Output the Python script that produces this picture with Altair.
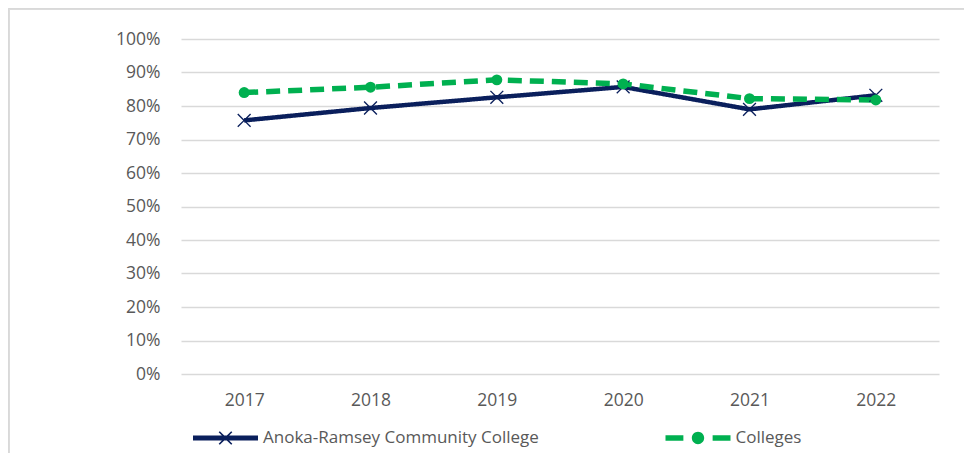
import altair as alt
import pandas as pd

years = ["2017", "2018", "2019", "2020", "2021", "2022"]
anoka = [0.757, 0.794, 0.826, 0.857, 0.790, 0.832]
colleges = [0.840, 0.856, 0.878, 0.866, 0.822, 0.818]
series_names = ["Anoka-Ramsey Community College", "Colleges"]

rows = []
for y, a, c in zip(years, anoka, colleges):
    rows.append({"year": y, "series": series_names[0], "value": a})
    rows.append({"year": y, "series": series_names[1], "value": c})
df = pd.DataFrame(rows)

NAVY = "#0a1f5c"
GREEN = "#00b050"
TEXT = "#595959"
GRID = "#d9d9d9"
FONT = "Open Sans"


def x_poly(e, a):
    p = [(0, -a), (e - a, -e), (e, -e + a), (a, 0), (e, e - a), (e - a, e), (0, a),
         (-e + a, e), (-e, e - a), (-a, 0), (-e, -e + a), (-e + a, -e)]
    return "M" + "L".join(f"{x:.3f},{y:.3f}" for x, y in p) + "Z"


def rect(x0, x1, h):
    return f"M{x0},{-h}L{x1},{-h}L{x1},{h}L{x0},{h}Z"


def circ(r):
    return f"M{-r},0A{r},{r} 0 1,1 {r},0A{r},{r} 0 1,1 {-r},0Z"


# marker shapes in the plot
X_PATH = x_poly(1, 0.14)
# legend keys: line with marker (unit box spans the full key width)
KEY_ANOKA = rect(-1, 1, 0.075) + x_poly(0.21, 0.035)
KEY_COLL = rect(-1, -0.45, 0.085) + rect(0.45, 1, 0.085) + circ(0.19)

base = alt.Chart(df).transform_calculate(series_p="datum.series", series_q="datum.series")

x_enc = alt.X("year:O", scale=alt.Scale(padding=0.5),
              axis=alt.Axis(title=None, labelAngle=0, grid=False, domain=False,
                            ticks=False, tickSize=0, labelPadding=17,
                            labelFontSize=17.5, labelColor=TEXT, labelFont=FONT))
y_enc = alt.Y("value:Q", scale=alt.Scale(domain=[0, 1], nice=False),
              axis=alt.Axis(title=None, format="%", values=[i / 10 for i in range(11)],
                            grid=True, gridColor=GRID, gridWidth=1.3, domain=False,
                            ticks=False, tickSize=0, labelPadding=21,
                            labelFontSize=17.5, labelColor=TEXT, labelFont=FONT))

lines = base.mark_line().encode(
    x=x_enc, y=y_enc,
    color=alt.Color("series:N", scale=alt.Scale(range=[NAVY, GREEN]), legend=None),
    strokeDash=alt.StrokeDash("series:N", scale=alt.Scale(range=[[1, 0], [14, 8]]),
                              legend=None),
    strokeWidth=alt.StrokeWidth("series:N", scale=alt.Scale(range=[4.5, 5.5]), legend=None),
)

points = base.mark_point(filled=True, opacity=1, strokeWidth=0).encode(
    x=x_enc, y=y_enc,
    shape=alt.Shape("series_p:N", scale=alt.Scale(range=[X_PATH, "circle"]), legend=None),
    color=alt.Color("series_p:N", scale=alt.Scale(range=[NAVY, GREEN]), legend=None),
    size=alt.Size("series_p:N", scale=alt.Scale(range=[190, 120]), legend=None),
)

legend_layer = base.mark_point(filled=True, opacity=0, strokeWidth=0).encode(
    x=x_enc, y=y_enc,
    shape=alt.Shape("series_q:N", scale=alt.Scale(range=[KEY_ANOKA, KEY_COLL]),
                    legend=alt.Legend(title=None, orient="none", direction="horizontal",
                                      legendX=12, legendY=366.25, symbolSize=4225,
                                      symbolStrokeWidth=0, symbolOpacity=1,
                                      labelFontSize=17, labelColor=TEXT, labelFont=FONT,
                                      labelOffset=5, columnPadding=126.5, padding=0,
                                      labelLimit=400)),
    color=alt.Color("series_q:N", scale=alt.Scale(range=[NAVY, GREEN])),
)

frame_top = alt.Chart(df).mark_rule(color=GRID, strokeWidth=1.5).encode(
    x=alt.value(-172.5), x2=alt.value(783), y=alt.value(-30.5))
frame_left = alt.Chart(df).mark_rule(color=GRID, strokeWidth=1.5).encode(
    x=alt.value(-172.5), y=alt.value(-30.5), y2=alt.value(420))

chart = alt.layer(frame_top, frame_left, lines, points, legend_layer).resolve_scale(
    color="independent", shape="independent"
).properties(
    width=758, height=335,
    autosize=alt.AutoSizeParams(type="none"),
    padding={"left": 173, "top": 31, "right": 25, "bottom": 79},
).configure(background="white").configure_view(stroke=None, strokeWidth=0)

chart.save("out.html", embed_options={"renderer": "svg", "actions": False})
